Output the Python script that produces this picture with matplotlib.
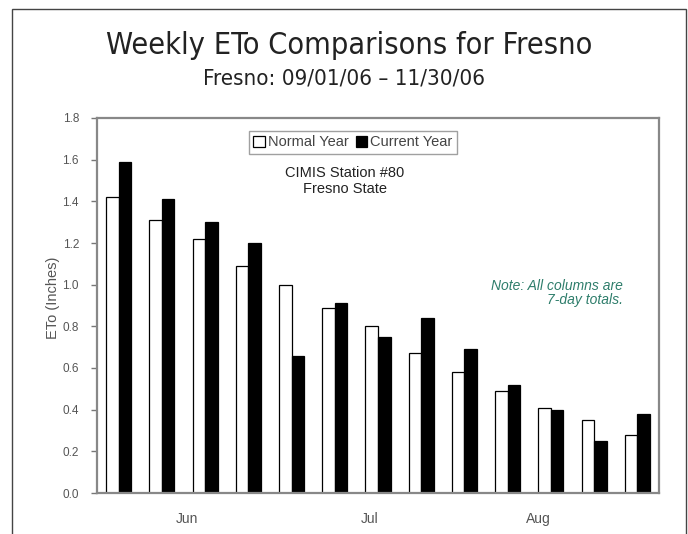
import numpy as np
import matplotlib
matplotlib.use('Agg')
import matplotlib.pyplot as plt
from matplotlib.patches import Rectangle

# weekly ETo totals (inches)
normal_year = [1.42, 1.31, 1.22, 1.09, 1.00, 0.89, 0.80, 0.67, 0.58, 0.49, 0.41, 0.35, 0.28]
current_year = [1.59, 1.41, 1.30, 1.20, 0.66, 0.91, 0.75, 0.84, 0.69, 0.52, 0.40, 0.25, 0.38]
month_labels = ['Jun', 'Jul', 'Aug']
month_pos = [2.07, 6.3, 10.2]
y_ticks = [0.0, 0.2, 0.4, 0.6, 0.8, 1.0, 1.2, 1.4, 1.6, 1.8]

W, H = 688, 534
fig = plt.figure(figsize=(W / 100., H / 100.), dpi=100)
fig.patch.set_facecolor('white')

# slide frame
fig.add_artist(Rectangle((12. / W, -0.05), (686. - 12.) / W, 1.05 - 9. / H,
                         transform=fig.transFigure, fill=False,
                         edgecolor='#444444', linewidth=1.0))

fig.text(349. / W, 1 - 46. / H, 'Weekly ETo Comparisons for Fresno',
         ha='center', va='center', fontsize=22, color='#222222',
         family='DejaVu Sans', stretch='condensed')
fig.text(344. / W, 1 - 79. / H, 'Fresno: 09/01/06 \u2013 11/30/06',
         ha='center', va='center', fontsize=16, color='#222222',
         family='DejaVu Sans', stretch='condensed')

ax = fig.add_axes([97. / W, 1 - 493. / H, (659. - 97.) / W, (493. - 118.) / H])

x = np.arange(len(normal_year)) + 0.5
bw = 0.29
ax.bar(x - bw / 2, normal_year, bw, color='white', edgecolor='black',
       linewidth=0.9, label='Normal Year')
ax.bar(x + bw / 2, current_year, bw, color='black', edgecolor='black',
       linewidth=0.9, label='Current Year')

ax.set_xlim(0, len(normal_year))
ax.set_ylim(0, 1.8)
ax.set_yticks(y_ticks)
ax.set_yticklabels(['%.1f' % v for v in y_ticks], family='Liberation Sans',
                   fontsize=8.5, color='#555555')
ax.set_xticks(month_pos)
ax.set_xticklabels(month_labels, family='Liberation Sans', fontsize=10,
                   color='#555555')
ax.tick_params(axis='x', length=0, pad=14)
ax.tick_params(axis='y', length=4, width=1, direction='out', color='#777777', pad=9)
ax.set_ylabel('ETo (Inches)', family='Liberation Sans', fontsize=10.5,
              color='#555555')
ax.yaxis.set_label_coords(-0.066, 0.52)
for s in ax.spines.values():
    s.set_color('#888888')
    s.set_linewidth(1.6)

leg = ax.legend(loc='upper center', bbox_to_anchor=(0.455, 0.985), ncol=2,
                frameon=True, fancybox=False, handlelength=0.8,
                handleheight=0.8, handletextpad=0.2, columnspacing=0.5,
                borderpad=0.3, prop={'family': 'Liberation Sans', 'size': 10.5})
leg.get_frame().set_edgecolor('#888888')
leg.get_frame().set_linewidth(1.0)
for t in leg.get_texts():
    t.set_color('#444444')

fig.text(345. / W, 1 - 181. / H, 'CIMIS Station #80\nFresno State',
         ha='center', va='center', fontsize=10.5, color='#222222',
         family='Liberation Sans', linespacing=1.15)
fig.text(623. / W, 1 - 293. / H, 'Note: All columns are\n7-day totals.',
         ha='right', va='center', fontsize=10, color='#2e7d6b',
         style='italic', family='Liberation Sans', linespacing=1.05)

plt.savefig('out.png', dpi=100)
